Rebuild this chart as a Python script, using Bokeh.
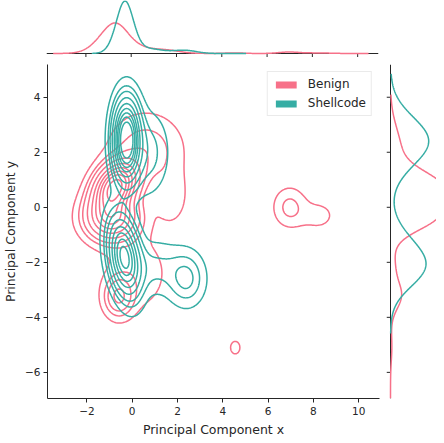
import numpy as np
from bokeh.plotting import figure
from bokeh.layouts import column, row
from bokeh.models import Range1d, FixedTicker, Legend, LegendItem
from bokeh.embed import file_html
from bokeh.resources import INLINE

PINK = "#f77189"
TEAL = "#36ada4"
INK = "#262626"
FONT = "DejaVu Sans"

# ---------------- data ----------------
classes = ["Benign", "Shellcode"]
class_share = [0.5, 0.5]

# Benign density: clusters (centre, spread, correlation, weight)
benign_cx = [-0.75, -0.9, -0.6, 0.6, 1.7, 0.2, 6.95, 8.2, 4.55]
benign_cy = [0.75, -0.4, -3.25, 2.1, 0.4, -2.4, 0.0, -0.3, -5.1]
benign_sx = [0.6, 0.7, 0.4, 1.0, 0.5, 0.9, 0.45, 0.6, 0.45]
benign_sy = [0.55, 0.5, 0.45, 0.8, 0.7, 0.9, 0.45, 0.4, 0.5]
benign_rho = [0.3, 0.0, 0.0, 0.0, 0.0, 0.0, 0.0, 0.0, 0.0]
benign_w = [0.28, 0.20, 0.04, 0.09, 0.02, 0.05, 0.019, 0.01, 0.0072]

# Shellcode density clusters
shell_cx = [-0.25, -0.35, 2.4, 1.0, 0.7, 0.0]
shell_cy = [2.45, -1.8, -2.6, -2.2, 2.0, 0.3]
shell_sx = [0.35, 0.42, 0.5, 0.8, 0.55, 0.7]
shell_sy = [0.85, 0.85, 0.6, 0.6, 0.9, 1.0]
shell_rho = [0.0, -0.3, 0.0, 0.0, 0.0, 0.0]
shell_w = [0.46, 0.36, 0.06, 0.06, 0.07, 0.005]

# evaluation grids (x0, x1, y0, y1) and marginal supports
benign_grid = [-3.74, 10.92, -6.95, 4.6]
shell_grid = [-2.2, 5.0, -5.0, 5.19]
benign_xsupport = [-3.45, 10.5]
shell_xsupport = [-1.75, 5.1]
benign_ysupport = [-6.95, 4.1]
shell_ysupport = [-4.6, 4.85]

x_ticks = [-2, 0, 2, 4, 6, 8, 10]
y_ticks = [-6, -4, -2, 0, 2, 4]
x_lim = [-3.74, 10.92]
y_lim = [-6.95, 5.19]
level_quantiles = np.linspace(0.05, 1.0, 10)

TICK_PX = 4


def mixture2d(X, Y, cx, cy, sx, sy, rho, w):
    Z = np.zeros_like(X)
    wt = np.asarray(w) / np.sum(w)
    for a, mx, my, s1, s2, r in zip(wt, cx, cy, sx, sy, rho):
        dx = (X - mx) / s1
        dy = (Y - my) / s2
        q = (dx * dx - 2 * r * dx * dy + dy * dy) / (1 - r * r)
        Z += a * np.exp(-0.5 * q) / (2 * np.pi * s1 * s2 * np.sqrt(1 - r * r))
    return Z


def mixture1d(t, c, s, w):
    out = np.zeros_like(t)
    wt = np.asarray(w) / np.sum(w)
    for a, m, sd in zip(wt, c, s):
        out += a * np.exp(-0.5 * ((t - m) / sd) ** 2) / (sd * np.sqrt(2 * np.pi))
    return out


def quantile_to_level(data, quantile):
    values = np.ravel(data)
    sorted_values = np.sort(values)[::-1]
    normalized = np.cumsum(sorted_values) / values.sum()
    idx = np.searchsorted(normalized, 1 - np.asarray(quantile))
    return np.take(sorted_values, idx, mode="clip")


def grid_density(g, cx, cy, sx, sy, rho, w, share):
    xs = np.linspace(g[0], g[1], 200)
    ys = np.linspace(g[2], g[3], 200)
    X, Y = np.meshgrid(xs, ys)
    return xs, ys, share * mixture2d(X, Y, cx, cy, sx, sy, rho, w)


bx, by, Zb = grid_density(benign_grid, benign_cx, benign_cy, benign_sx, benign_sy,
                          benign_rho, benign_w, class_share[0])
sxg, syg, Zs = grid_density(shell_grid, shell_cx, shell_cy, shell_sx, shell_sy,
                            shell_rho, shell_w, class_share[1])
levels = quantile_to_level(np.concatenate([Zb.ravel(), Zs.ravel()]), level_quantiles)
levels = np.unique(levels)[:-1]


def style_axis(ax, ticks):
    ax.ticker = FixedTicker(ticks=ticks)
    ax.minor_tick_line_color = None
    ax.major_tick_out = TICK_PX
    ax.major_tick_in = 0
    ax.major_tick_line_color = INK
    ax.major_tick_line_width = 1
    ax.axis_line_color = INK
    ax.axis_line_width = 1
    ax.major_label_text_font = FONT
    ax.major_label_text_font_size = "10.5px"
    ax.major_label_text_color = INK
    ax.axis_label_text_font = FONT
    ax.axis_label_text_font_size = "12.5px"
    ax.axis_label_text_font_style = "normal"
    ax.axis_label_text_color = INK


# ---------------- main joint plot ----------------
xr = Range1d(*x_lim)
yr = Range1d(*y_lim)

main = figure(frame_width=332, frame_height=334, x_range=xr, y_range=yr,
              output_backend="svg", toolbar_location=None,
              min_border_left=39, min_border_right=5, min_border_top=7,
              min_border_bottom=29)
main.contour(bx, by, Zb, levels, line_color=PINK, line_width=1.5)
main.contour(sxg, syg, Zs, levels, line_color=TEAL, line_width=1.5)

style_axis(main.xaxis[0], x_ticks)
style_axis(main.yaxis[0], y_ticks)
main.xaxis.axis_label = "Principal Component x"
main.yaxis.axis_label = "Principal Component y"
main.xaxis.major_label_standoff = 4
main.yaxis.major_label_standoff = 3
main.yaxis.axis_label_standoff = 4
main.xaxis.axis_label_standoff = 4
main.grid.visible = False
main.outline_line_color = None

nan = [np.nan]
rb = main.quad(left=nan, right=nan, top=nan, bottom=nan, fill_color=PINK, line_color=None)
rs = main.quad(left=nan, right=nan, top=nan, bottom=nan, fill_color=TEAL, line_color=None)
legend = Legend(items=[LegendItem(label=classes[0], renderers=[rb]),
                       LegendItem(label=classes[1], renderers=[rs])],
                location="top_right", glyph_width=26, glyph_height=9,
                label_text_font=FONT, label_text_font_size="12px",
                label_text_color=INK, label_height=14, spacing=5, padding=5,
                margin=7, label_standoff=9, border_line_color="#d6d6d6",
                background_fill_alpha=0.8)
main.add_layout(legend)

# ---------------- top marginal (spine + ticks drawn in-frame) ----------------
tx = np.linspace(x_lim[0], x_lim[1], 500)
top_b = class_share[0] * mixture1d(tx, benign_cx, benign_sx, benign_w)
top_s = class_share[1] * mixture1d(tx, shell_cx, shell_sx, shell_w)
mb = (tx >= benign_xsupport[0]) & (tx <= benign_xsupport[1])
ms = (tx >= shell_xsupport[0]) & (tx <= shell_xsupport[1])
top_max = max(top_b.max(), top_s.max())
TOP_PX = 53
top_end = 1.01 * top_max
top_start = -top_end * TICK_PX / TOP_PX

top = figure(frame_width=332, frame_height=TOP_PX + TICK_PX, x_range=xr,
             y_range=Range1d(top_start, top_end),
             output_backend="svg", toolbar_location=None,
             x_axis_location=None, y_axis_location=None,
             min_border_left=46, min_border_right=50, min_border_top=0,
             min_border_bottom=0)
top.segment(x0=x_ticks, y0=[0] * len(x_ticks), x1=x_ticks,
            y1=[top_start] * len(x_ticks), line_color=INK, line_width=1)
top.segment(x0=[x_lim[0]], y0=[0], x1=[x_lim[1]], y1=[0], line_color=INK, line_width=1)
top.line(tx[mb], top_b[mb], line_color=PINK, line_width=1.5)
top.line(tx[ms], top_s[ms], line_color=TEAL, line_width=1.5)
top.grid.visible = False
top.outline_line_color = None

# ---------------- right marginal ----------------
ty = np.linspace(y_lim[0], y_lim[1], 500)
rt_b = class_share[0] * mixture1d(ty, benign_cy, benign_sy, benign_w)
rt_s = class_share[1] * mixture1d(ty, shell_cy, shell_sy, shell_w)
nb = (ty >= benign_ysupport[0]) & (ty <= benign_ysupport[1])
ns = (ty >= shell_ysupport[0]) & (ty <= shell_ysupport[1])
rt_max = max(rt_b.max(), rt_s.max())
RT_PX = 46
rt_end = 0.85 * rt_max
rt_start = -rt_end * TICK_PX / RT_PX

right = figure(frame_width=RT_PX + TICK_PX, frame_height=334, y_range=yr,
               x_range=Range1d(rt_start, rt_end),
               output_backend="svg", toolbar_location=None,
               x_axis_location=None, y_axis_location=None,
               min_border_left=2, min_border_right=0, min_border_top=7,
               min_border_bottom=29)
right.segment(x0=[0] * len(y_ticks), y0=y_ticks, x1=[rt_start] * len(y_ticks),
              y1=y_ticks, line_color=INK, line_width=1)
right.segment(x0=[0], y0=[y_lim[0]], x1=[0], y1=[y_lim[1]], line_color=INK, line_width=1)
right.line(rt_b[nb], ty[nb], line_color=PINK, line_width=1.5)
right.line(rt_s[ns], ty[ns], line_color=TEAL, line_width=1.5)
right.grid.visible = False
right.outline_line_color = None

layout = column(top, row(main, right))
open("out.html", "w").write(file_html(layout, INLINE))
